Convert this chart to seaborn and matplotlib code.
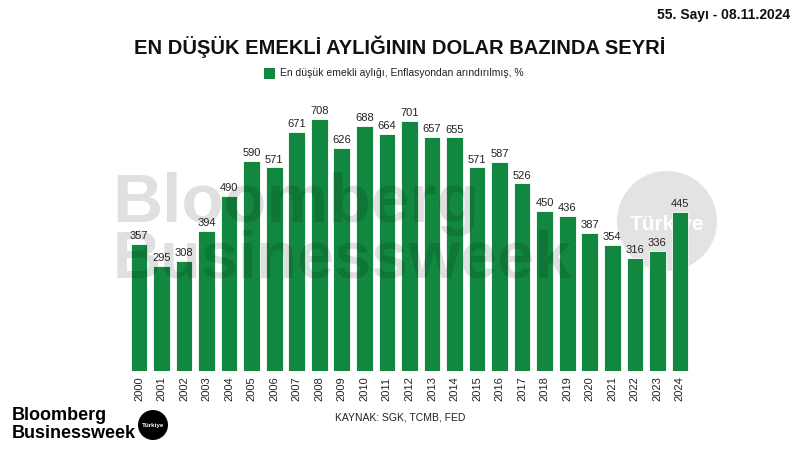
import matplotlib
matplotlib.use("Agg")
import matplotlib.pyplot as plt
from matplotlib.patches import Circle, Rectangle
import seaborn as sns
import pandas as pd

years = [str(y) for y in range(2000, 2025)]
values = [357, 295, 308, 394, 490, 590, 571, 671, 708, 626, 688, 664, 701,
          657, 655, 571, 587, 526, 450, 436, 387, 354, 316, 336, 445]

title = "EN DÜŞÜK EMEKLİ AYLIĞININ DOLAR BAZINDA SEYRİ"
legend_label = "En düşük emekli aylığı, Enflasyondan arındırılmış, %"
source = "KAYNAK: SGK, TCMB, FED"
issue = "55. Sayı - 08.11.2024"

green = "#12873F"

sns.set_theme(style="white")
plt.rcParams['font.family'] = ['Liberation Sans', 'DejaVu Sans']

df = pd.DataFrame({"year": years, "value": values})

fig = plt.figure(figsize=(8, 4.5), dpi=100)
fig.patch.set_facecolor("white")

ax = fig.add_axes([127.7 / 800, 1 - 371 / 450, 563.5 / 800, 271 / 450])
ax.patch.set_alpha(0)

# grey circle watermark sits behind the bars
ax.add_patch(Circle((667, 450 - 221), 50, transform=None, facecolor="#e3e3e3",
                    edgecolor="none", zorder=0, clip_on=False))
ax.text(667 / 800, 1 - 224 / 450, "Türkiye", transform=fig.transFigure, fontsize=15,
        fontweight="bold", color="white", ha="center", va="center", zorder=0.5, clip_on=False)

sns.barplot(data=df, x="year", y="value", color=green, width=0.74, saturation=1,
            edgecolor="white", linewidth=0.6, ax=ax, zorder=1)
ax.set_xlim(-0.5, len(years) - 0.5)
ax.set_ylim(0, 760)

# translucent word mark drawn over the bars
ax.text(112 / 800, 1 - 222 / 450, "Bloomberg", transform=fig.transFigure, fontsize=50,
        fontweight="bold", color="black", alpha=0.12, ha="left", va="baseline",
        zorder=2, clip_on=False)
ax.text(112 / 800, 1 - 278 / 450, "Businessweek", transform=fig.transFigure, fontsize=48,
        fontweight="bold", color="black", alpha=0.12, ha="left", va="baseline",
        zorder=2, clip_on=False)

for i, v in enumerate(values):
    ax.text(i, v + 8, str(v), ha="center", va="bottom", fontsize=8, color="#222222", zorder=3)
ax.set_xlabel("")
ax.set_ylabel("")
ax.set_yticks([])
ax.tick_params(axis="x", labelrotation=90, labelsize=8, length=0, pad=4)
for lbl in ax.get_xticklabels():
    lbl.set_color("#222222")
sns.despine(ax=ax, left=True, bottom=True)

fig.text(0.5, 1 - 47 / 450, title, fontsize=14.5, fontweight="bold", ha="center", va="center",
         color="#111111")
fig.patches.append(Rectangle((264, 450 - 79), 11, 11, transform=None, facecolor=green,
                             edgecolor="none"))
fig.text(280 / 800, 1 - 73 / 450, legend_label, fontsize=7.5, ha="left", va="center",
         color="#222222")
fig.text(0.5, 1 - 418 / 450, source, fontsize=7.5, ha="center", va="center", color="#222222")
fig.text(0.988, 1 - 15 / 450, issue, fontsize=10, fontweight="bold", ha="right", va="center",
         color="#111111")

# logo bottom left
fig.text(12 / 800, 1 - 415 / 450, "Bloomberg", fontsize=13, fontweight="bold", ha="left",
         va="center", color="black")
fig.text(12 / 800, 1 - 433 / 450, "Businessweek", fontsize=13, fontweight="bold", ha="left",
         va="center", color="black")
fig.patches.append(Circle((153, 450 - 425), 15, transform=None, facecolor="black",
                          edgecolor="none"))
fig.text(153 / 800, 1 - 425 / 450, "Türkiye", fontsize=4.5, fontweight="bold", ha="center",
         va="center", color="white")

fig.savefig("out.png", dpi=100)
